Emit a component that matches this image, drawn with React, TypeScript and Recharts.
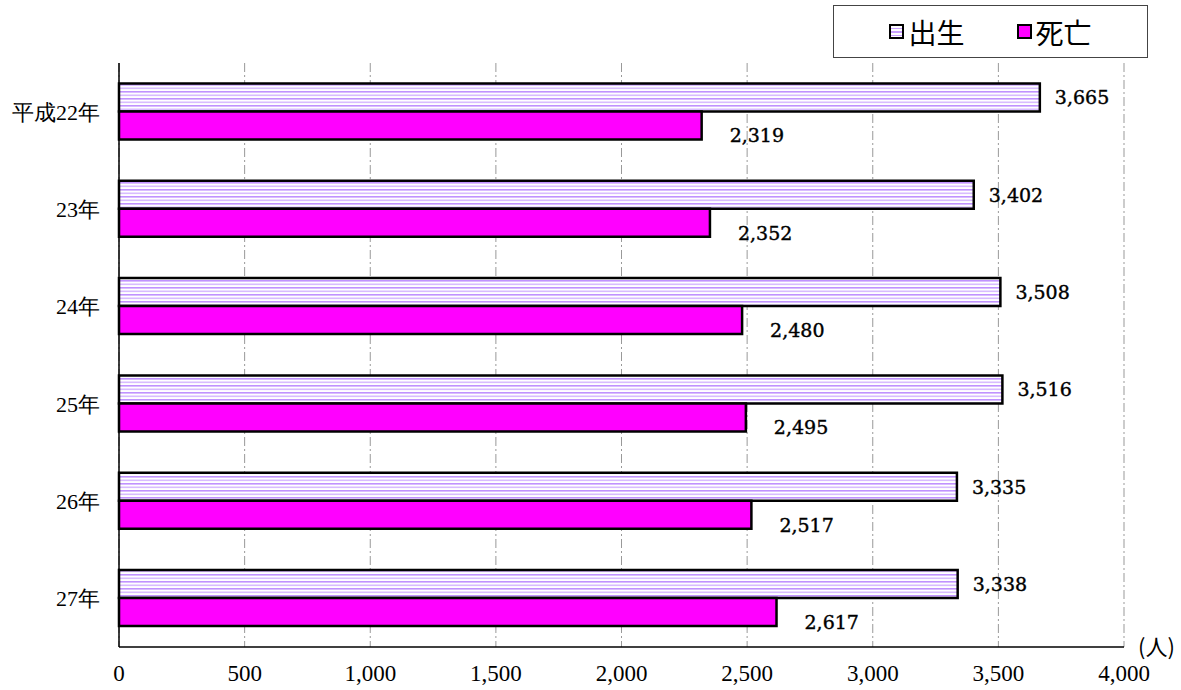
import React from 'react';
import { BarChart, Bar, XAxis, YAxis, CartesianGrid, Label } from 'recharts';

const categories = ['平成22年', '23年', '24年', '25年', '26年', '27年'];
const births = [3665, 3402, 3508, 3516, 3335, 3338];
const deaths = [2319, 2352, 2480, 2495, 2517, 2617];
const xTicks = [0, 500, 1000, 1500, 2000, 2500, 3000, 3500, 4000];

const data = categories.map((name, i) => ({ name, 出生: births[i], 死亡: deaths[i] }));

const serif = "'Liberation Serif', 'Times New Roman', 'DejaVu Serif', serif";
const cjk = "'Noto Sans CJK JP', 'Liberation Serif', sans-serif";
const labelFont = "'DejaVu Serif', serif";

const fmt = (v: number) => v.toLocaleString('en-US');

const birthLabel = (props: any) => {
  const { x, y, width, height, value } = props;
  return (
    <text x={x + width + 15} y={y + height / 2} dominantBaseline="central" fontFamily={labelFont} fontSize={19} fill="#000" stroke="#000" strokeWidth={0.4}>
      {fmt(value)}
    </text>
  );
};

const deathLabel = (props: any) => {
  const { x, y, width, height, value } = props;
  return (
    <text x={x + width + 28} y={y + height / 2 + 10} dominantBaseline="central" fontFamily={labelFont} fontSize={19} fill="#000" stroke="#000" strokeWidth={0.4}>
      {fmt(value)}
    </text>
  );
};

const XTick = (props: any) => {
  const { x, y, payload } = props;
  return (
    <text x={x} y={y + 18} textAnchor="middle" dominantBaseline="central" fontFamily={serif} fontSize={23} fill="#000">
      {fmt(payload.value)}
    </text>
  );
};

const YTick = (props: any) => {
  const { x, y, payload } = props;
  return (
    <text x={x - 11} y={y} textAnchor="end" dominantBaseline="central" fontSize={22} fill="#000">
      <tspan fontFamily={serif}>{payload.value}</tspan>
    </text>
  );
};

const LegendBox = () => (
  <div
    style={{
      position: 'absolute',
      left: 833,
      top: 5,
      width: 315,
      height: 53,
      boxSizing: 'border-box',
      border: '1.5px solid #444',
      background: '#fff',
      display: 'flex',
      alignItems: 'center',
      justifyContent: 'center',
      gap: 52,
      fontFamily: cjk,
      fontSize: 28,
      color: '#000',
    }}
  >
    <span style={{ display: 'flex', alignItems: 'center' }}>
      <span
        style={{
          width: 11,
          height: 11,
          border: '2px solid #000',
          marginRight: 4,
          background: 'repeating-linear-gradient(#fff 0px, #fff 2px, #c9a0ff 2px, #c9a0ff 3.5px)',
        }}
      />
      出生
    </span>
    <span style={{ display: 'flex', alignItems: 'center' }}>
      <span style={{ width: 11, height: 11, border: '2px solid #000', marginRight: 4, background: '#ff00ff' }} />
      死亡
    </span>
  </div>
);

export default function App() {
  return (
    <div style={{ position: 'absolute', left: 0, top: 0, width: 1181, height: 690, background: '#fff' }}>
      <BarChart
        width={1181}
        height={690}
        data={data}
        layout="vertical"
        margin={{ top: 63, right: 57, bottom: 0, left: 0 }}
        barCategoryGap="21%"
        barGap={0}
      >
        <defs>
          <pattern id="stripes" width="8" height="7" patternUnits="userSpaceOnUse">
            <rect width="8" height="7" fill="#fff" />
            <rect y="0" width="8" height="1.6" fill="#c092ff" />
            <rect y="3.5" width="8" height="1.6" fill="#d8bcff" />
          </pattern>
        </defs>
        <CartesianGrid horizontal={false} stroke="#999" strokeDasharray="9 3 2 3" />
        <XAxis
          type="number"
          domain={[0, 4000]}
          ticks={xTicks}
          height={43}
          tickLine={false}
          axisLine={{ stroke: '#000', strokeWidth: 1.5 }}
          tick={<XTick />}
          interval={0}
        >
          <Label
            content={(p: any) => {
              const vb = p.viewBox || {};
              return (
                <text x={(vb.x || 0) + (vb.width || 0) + 14} y={(vb.y || 0) - 2} dominantBaseline="central" fontFamily={cjk} fontSize={22} fill="#000">
                  (人)
                </text>
              );
            }}
          />
        </XAxis>
        <YAxis
          type="category"
          dataKey="name"
          width={119}
          tickLine={false}
          axisLine={{ stroke: '#000', strokeWidth: 1.5 }}
          tick={<YTick />}
          interval={0}
        />
        <Bar dataKey="出生" fill="url(#stripes)" stroke="#000" strokeWidth={2.5} isAnimationActive={false} label={birthLabel} />
        <Bar dataKey="死亡" fill="#ff00ff" stroke="#000" strokeWidth={2.5} isAnimationActive={false} label={deathLabel} />
      </BarChart>
      <LegendBox />
    </div>
  );
}
